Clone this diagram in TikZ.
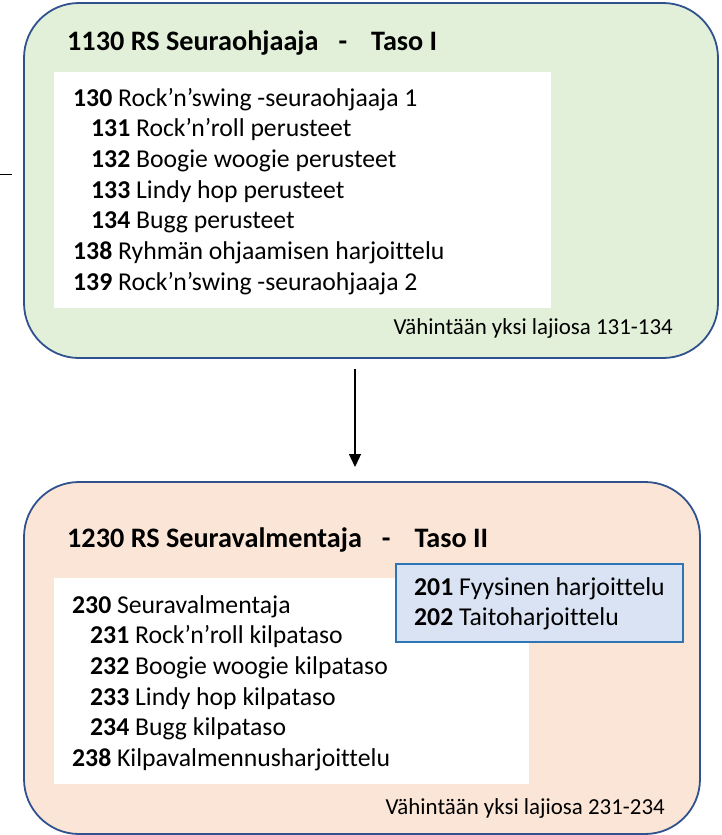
\documentclass[tikz,border=0pt]{standalone}
\usepackage{fontspec}
\setmainfont{Carlito}[Ligatures=NoCommon]
\usetikzlibrary{arrows.meta,positioning}

\definecolor{tasoborder}{HTML}{2F528F}
\definecolor{taso1fill}{HTML}{E2F0D9}
\definecolor{taso2fill}{HTML}{FBE5D6}
\definecolor{extrafill}{HTML}{DAE3F3}
\definecolor{extraborder}{HTML}{2E75B6}

\begin{document}
\begin{tikzpicture}[x=1pt, y=-1pt, >={Triangle[length=13pt,width=12pt]},
    tasobox/.style={draw=tasoborder, line width=1.8pt, rounded corners=55pt, anchor=north west, inner sep=0pt, outer sep=0pt},
    listbox/.style={fill=white, anchor=north west, inner sep=0pt, outer sep=0pt},
    extrabox/.style={draw=extraborder, fill=extrafill, line width=1.4pt, anchor=north west, inner sep=0pt, outer sep=0pt},
    title/.style={anchor=base west, inner sep=0pt, font=\fontsize{28.2}{34}\selectfont\bfseries},
    item/.style={anchor=base west, inner sep=0pt, font=\fontsize{25.7}{30.7}\selectfont},
    note/.style={anchor=base east, inner sep=0pt, font=\fontsize{22.9}{28}\selectfont},
    nextrow/.style={below=30.7pt of #1, anchor=base west},
    indentrow/.style={below=30.7pt of #1, anchor=base west, xshift=18pt},
    outdentrow/.style={below=30.7pt of #1, anchor=base west, xshift=-18pt}]
    \useasboundingbox (0,0) rectangle (722,835);

    % Boxes {taso1, taso2, lists, extra}
    \node [tasobox, fill=taso1fill, minimum width=694pt, minimum height=355pt] (taso1)  at (24,3)    {};
    \node [tasobox, fill=taso2fill, minimum width=676pt, minimum height=352pt] (taso2)  at (24,482)  {};
    \node [listbox, minimum width=497pt, minimum height=236pt]                 (lista1) at (54,72)   {};
    \node [listbox, minimum width=475pt, minimum height=206pt]                 (lista2) at (54,578)  {};
    \node [extrabox, minimum width=287pt, minimum height=78pt]                 (extra)  at (396,564) {};

    % Taso I
    \node [title]                       (otsikko1) at (67,50)  {1130 RS Seuraohjaaja\hspace{20pt}-\hspace{24pt}Taso I};
    \node [item]                        (k130)     at (73,106) {\textbf{130} Rock’n’swing -seuraohjaaja 1};
    \node [item, indentrow=k130.base west]  (k131) {\textbf{131} Rock’n’roll perusteet};
    \node [item, nextrow=k131.base west]    (k132) {\textbf{132} Boogie woogie perusteet};
    \node [item, nextrow=k132.base west]    (k133) {\textbf{133} Lindy hop perusteet};
    \node [item, nextrow=k133.base west]    (k134) {\textbf{134} Bugg perusteet};
    \node [item, outdentrow=k134.base west] (k138) {\textbf{138} Ryhmän ohjaamisen harjoittelu};
    \node [item, nextrow=k138.base west]    (k139) {\textbf{139} Rock’n’swing -seuraohjaaja 2};
    \node [note]                        (ehto1)    at (673,334) {Vähintään yksi lajiosa 131-134};

    % Taso II
    \node [title]                       (otsikko2) at (67,547) {1230 RS Seuravalmentaja\hspace{20pt}-\hspace{24pt}Taso II};
    \node [item]                        (k230)     at (72,613) {\textbf{230} Seuravalmentaja};
    \node [item, indentrow=k230.base west]  (k231) {\textbf{231} Rock’n’roll kilpataso};
    \node [item, nextrow=k231.base west]    (k232) {\textbf{232} Boogie woogie kilpataso};
    \node [item, nextrow=k232.base west]    (k233) {\textbf{233} Lindy hop kilpataso};
    \node [item, nextrow=k233.base west]    (k234) {\textbf{234} Bugg kilpataso};
    \node [item, outdentrow=k234.base west] (k238) {\textbf{238} Kilpavalmennusharjoittelu};
    \node [item]                        (k201)     at (414,595) {\textbf{201} Fyysinen harjoittelu};
    \node [item, nextrow=k201.base west]    (k202) {\textbf{202} Taitoharjoittelu};
    \node [note]                        (ehto2)    at (665,814) {Vähintään yksi lajiosa 231-234};

    % Paths
    \coordinate (pilalku)  at ([xshift=-16pt]taso1.south);
    \coordinate (pilloppu) at (pilalku |- taso2.north);
    \path [->, line width=1.3pt] (pilalku) edge [shorten <=11pt, shorten >=15pt] (pilloppu);
    \coordinate (tyngaA) at (0,174);
    \coordinate (tyngaB) at (12,174);
    \draw [line width=1pt] (tyngaA) -- (tyngaB);

\end{tikzpicture}
\end{document}
